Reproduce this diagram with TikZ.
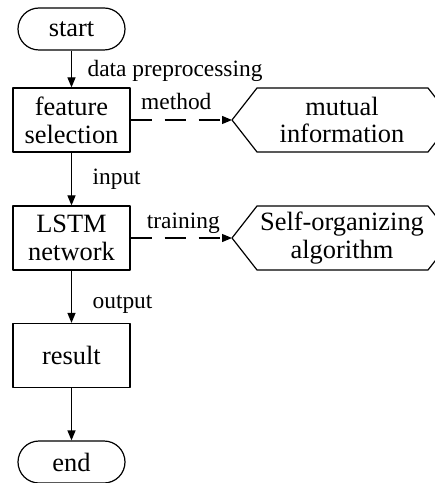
\documentclass[tikz,border=0pt]{standalone}
\usepackage{fontspec}
\setmainfont{Liberation Serif}
\usetikzlibrary{arrows.meta}

\begin{document}
\begin{tikzpicture}[x=1bp, y=-1bp, line width=1.2bp, line join=round, >={Triangle[length=10bp,width=8bp]},
		box/.style={draw, minimum width=117bp, minimum height=64bp, align=center, inner sep=0pt, font=\fontsize{26.5}{28}\selectfont},
		term/.style={box, minimum width=107bp, minimum height=42bp, rounded corners=21bp},
		hexlbl/.style={align=center, inner sep=0pt, font=\fontsize{26.5}{28}\selectfont},
		lbl/.style={font=\fontsize{23.5}{24}\selectfont, inner sep=0pt},
		dashlink/.style={->, dash pattern=on 21bp off 13bp}]
	\useasboundingbox (0,0) rectangle (435,483);
	\clip (0,0) rectangle (435,483);
	% flow
	\node[term] (start) at (71.5,29) {start};
	\node[box] (fs) at (71.5,120) {feature\\selection};
	\node[box] (lstm) at (71.5,238) {LSTM\\network};
	\node[box] (res) at (71.5,355.5) {result};
	\node[term] (end) at (71.5,462) {end};
	% side hexagons
	\coordinate (miL) at (232,120);
	\coordinate (soL) at (232,238);
	\draw (miL) -- ++(25,-32) -- ++(171,0) -- ++(25,32) -- ++(-25,32) -- ++(-171,0) -- cycle;
	\draw (soL) -- ++(25,-32) -- ++(171,0) -- ++(25,32) -- ++(-25,32) -- ++(-171,0) -- cycle;
	\node[hexlbl] (mi) at (342,120) {mutual\\information};
	\node[hexlbl] (so) at (342,238) {Self-organizing\\algorithm};
	% connectors
	\draw[->] (start) -- node[lbl, anchor=base west, xshift=15.5bp, yshift=-7.5bp] {data preprocessing} (fs);
	\draw[->] (fs) -- node[lbl, anchor=base west, xshift=20.5bp, yshift=-6bp] {input} (lstm);
	\draw[->] (lstm) -- node[lbl, anchor=base west, xshift=20.5bp, yshift=-11.5bp] {output} (res);
	\draw[->] (res) -- (end);
	\draw[dashlink] (fs) -- node[lbl, anchor=base, xshift=-5bp, yshift=10bp] {method} (miL);
	\draw[dashlink] (lstm) -- node[lbl, anchor=base, xshift=2bp, yshift=10bp] {training} (soL);
\end{tikzpicture}
\end{document}
